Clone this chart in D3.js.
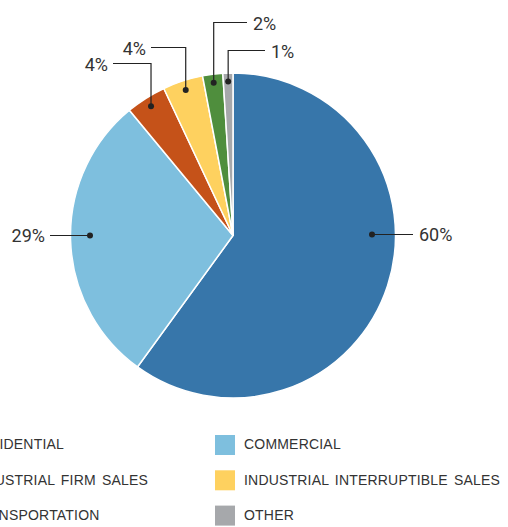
<!DOCTYPE html>
<html><head><meta charset="utf-8">
<script src="https://cdn.jsdelivr.net/npm/d3@7/dist/d3.min.js"></script>
<style>body{margin:0;background:#fff;}svg{display:block;}</style>
</head><body>
<svg id="c" width="508" height="527"></svg>
<script>
const categories = ["RESIDENTIAL","COMMERCIAL","INDUSTRIAL FIRM SALES","INDUSTRIAL INTERRUPTIBLE SALES","TRANSPORTATION","OTHER"];
const values = [60, 29, 4, 4, 2, 1];
const labels = ["60%","29%","4%","4%","2%","1%"];
const colors = ["#3776aa","#7ebfde","#c55219","#fed15f","#4f8e3d","#a6a8ab"];
const legendOrder = ["RESIDENTIAL","COMMERCIAL","INDUSTRIAL FIRM SALES","INDUSTRIAL INTERRUPTIBLE SALES","TRANSPORTATION","OTHER"];

const svg = d3.select("#c");
const cx = 233, cy = 235.5, R = 162.5;
const g = svg.append("g").attr("transform", `translate(${cx},${cy})`);
const pie = d3.pie().sort(null).value(d => d)(values);
const arc = d3.arc().innerRadius(0).outerRadius(R);
g.selectAll("path").data(pie).enter().append("path")
  .attr("d", arc).attr("fill", (d,i) => colors[i])
  .attr("stroke", "#fff").attr("stroke-width", 1.5);

// label layout (positions relative to center)
const layout = [
  {mode:"h", dot:[139,-1], end:[180,-1], text:[186,-1], anchor:"start"},
  {mode:"h", dot:[-143,0], end:[-183,0], text:[-188,0], anchor:"end"},
  {mode:"v", r:153, elbowY:-172, endX:-120, anchor:"end"},
  {mode:"v", r:153, elbowY:-188, endX:-82, anchor:"end"},
  {mode:"v", r:154, elbowY:-213, endX:14, anchor:"start"},
  {mode:"v", r:154, elbowY:-185, endX:32, anchor:"start"}
];
const lab = g.append("g");
pie.forEach((d,i) => {
  const L = layout[i];
  let dot, pts, tx, ty;
  if (L.mode === "h") {
    dot = L.dot; pts = [L.dot, L.end]; tx = L.text[0]; ty = L.text[1];
  } else {
    const a = (d.startAngle + d.endAngle) / 2;
    dot = [L.r*Math.sin(a), -L.r*Math.cos(a)];
    pts = [dot, [dot[0], L.elbowY], [L.endX, L.elbowY]];
    tx = L.endX + (L.anchor === "end" ? -5 : 6); ty = L.elbowY + 1;
  }
  lab.append("path").attr("d", d3.line()(pts)).attr("fill","none")
    .attr("stroke","#222").attr("stroke-width",1.2);
  lab.append("circle").attr("cx",dot[0]).attr("cy",dot[1]).attr("r",3).attr("fill","#222");
  lab.append("text").attr("x",tx).attr("y",ty).attr("dy","0.35em")
    .attr("text-anchor",L.anchor)
    .attr("font-family","Roboto, 'Liberation Sans', Arial, sans-serif")
    .attr("font-size",18).attr("fill","#333").text(labels[i]);
});

// legend
const leg = svg.append("g");
legendOrder.forEach((name, k) => {
  const i = categories.indexOf(name);
  const col = k % 2, row = Math.floor(k / 2);
  const x = col === 0 ? -59 : 215;
  const y = 435 + row * 35.3;
  leg.append("rect").attr("x", x).attr("y", y).attr("width", 20).attr("height", 20).attr("fill", colors[i]);
  leg.append("text").attr("x", x + 29).attr("y", y + 9.5).attr("dy", "0.35em")
    .attr("font-family","'Liberation Sans', Arial, sans-serif").attr("font-size",14)
    .attr("letter-spacing","0.2px").attr("word-spacing","2px").attr("fill","#333").text(name);
});
</script>
</body></html>
